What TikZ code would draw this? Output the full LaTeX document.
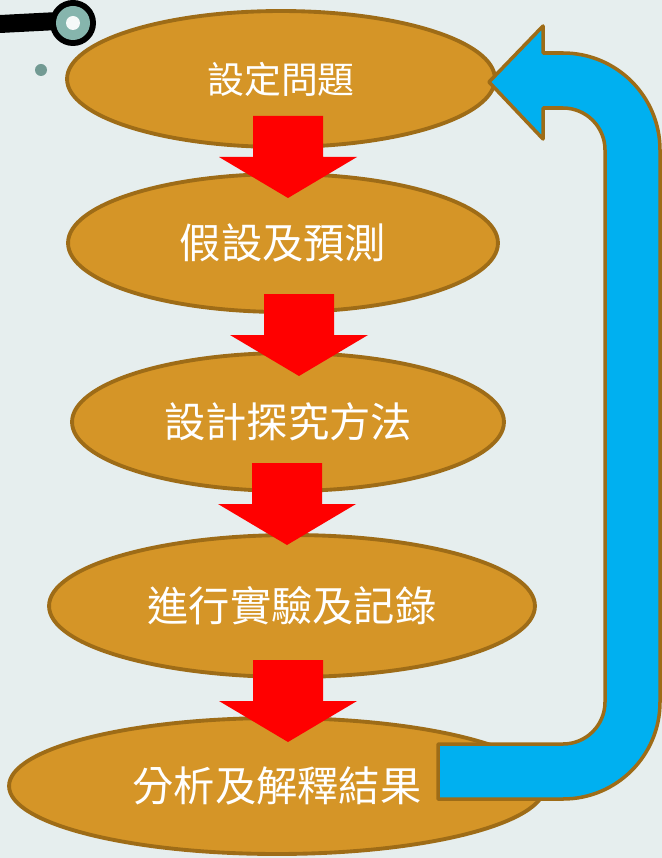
\documentclass[tikz,border=0pt]{standalone}
\usepackage{fontspec}
\newfontfamily\tcfont{Noto Sans CJK TC}
\usetikzlibrary{shapes.geometric}
\definecolor{bgcol}{HTML}{E6EEEE}
\definecolor{ochre}{HTML}{D59527}
\definecolor{rim}{HTML}{9E6C17}
\definecolor{sky}{HTML}{00B0F0}
\definecolor{pin}{HTML}{2C282C}
\definecolor{teal}{HTML}{86B5AD}
\tikzset{stage/.style = {ellipse, draw = rim, fill = ochre, line width = 2.2pt, inner sep = 0, text = white, font = \tcfont\fontsize{23.5}{28}\selectfont}}
\tikzset{redarrow/.style = {fill = red}}
\tikzset{loopback/.style = {fill = sky, draw = rim, line width = 2pt, line join = round}}
\newcommand{\blockarrow}[1]{\fill [redarrow] (#1) ++(-35,0) -- ++(70,0) -- ++(0,41) -- ++(34,0) -- ++(-69,41) -- ++(-69,-41) -- ++(34,0) -- cycle;}

\begin{document}
\begin{tikzpicture}[x=0.02cm, y=-0.02cm]
      \useasboundingbox (0,0) rectangle (662,858);
      \fill [bgcol] (0,0) rectangle (662,858);

      % pin in the corner
      \fill [pin] (0,15) -- (58,12) -- (58,30) -- (0,33) -- cycle;
      \fill [pin] (73,23) circle (23);
      \fill [teal] (73,23) circle (17);
      \fill [white!92!teal] (73,23) circle (7);
      \fill [teal!85!black] (41,70) circle (6);

      \node [stage, minimum width = 8.56cm, minimum height = 2.72cm] at (281,79) (problem) {\fontsize{21}{25}\selectfont 設定問題};
      \node [stage, minimum width = 8.6cm, minimum height = 2.76cm] at (283,243) (hypothesis) {假設及預測};
      \node [stage, minimum width = 8.64cm, minimum height = 2.76cm] at (288,422) (method) {設計探究方法};
      \node [stage, minimum width = 9.72cm, minimum height = 2.84cm] at (292,606) (experiment) {進行實驗及記錄};
      \node [stage, minimum width = 10.72cm, minimum height = 2.72cm] at (277,786) (analysis) {分析及解釋結果};

      \coordinate (a1) at (288,116);
      \coordinate (a2) at (299,294);
      \coordinate (a3) at (287,463);
      \coordinate (a4) at (288,660);
      \blockarrow{a1}
      \blockarrow{a2}
      \blockarrow{a3}
      \blockarrow{a4}

      % back from the results to the problem
      \coordinate (tip) at (489,82);
      \draw [loopback] (tip) -- (543,26) -- (543,53) -- (563,53)
        arc [start angle = -90, end angle = 0, radius = 97] -- (660,702)
        arc [start angle = 0, end angle = 90, radius = 97] -- (438,799) -- (438,744) -- (563,744)
        arc [start angle = 90, end angle = 0, radius = 42] -- (605,150)
        arc [start angle = 0, end angle = -90, radius = 42] -- (543,108) -- (543,139) -- cycle;
    \end{tikzpicture}
\end{document}
